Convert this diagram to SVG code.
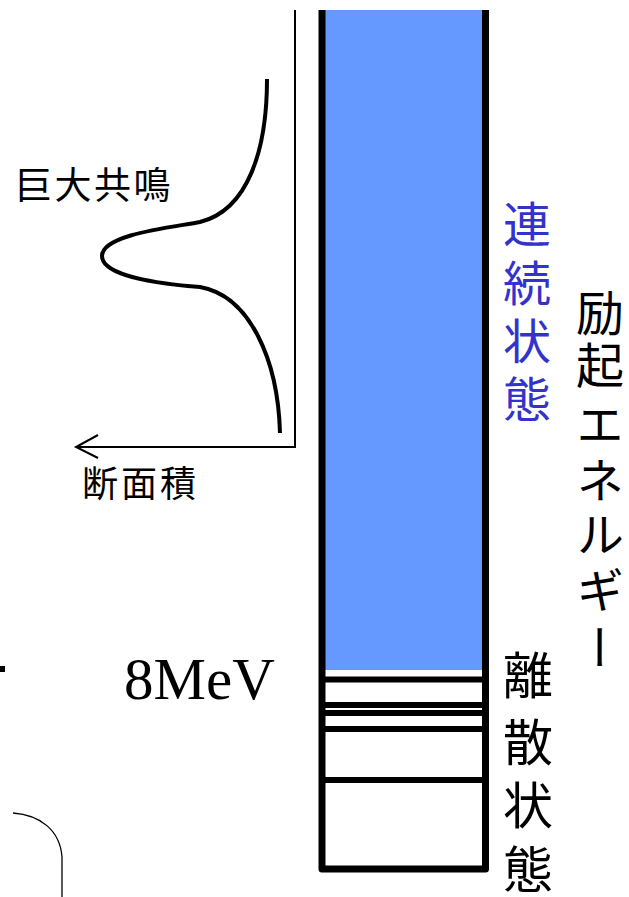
<svg xmlns="http://www.w3.org/2000/svg" width="629" height="897" viewBox="0 0 629 897">
<style>
.jp{font-family:"Noto Sans CJK JP","Noto Sans CJK SC",sans-serif;fill:#000}
.vt{writing-mode:vertical-rl;text-orientation:upright}
.lvl{stroke:#000;stroke-width:6}
.ax{stroke:#000;stroke-width:2;fill:none}
</style>
<rect width="629" height="897" fill="#fff"/>
<g id="column">
  <rect x="322" y="10" width="163" height="660" fill="#6699ff"/>
  <line class="lvl" x1="322" y1="679.5" x2="485" y2="679.5"/>
  <line class="lvl" x1="322" y1="705" x2="485" y2="705"/>
  <line class="lvl" x1="322" y1="713" x2="485" y2="713"/>
  <line class="lvl" x1="322" y1="729" x2="485" y2="729"/>
  <line class="lvl" x1="322" y1="780" x2="485" y2="780"/>
  <path d="M322,10 V869 H485.5 V10" fill="none" stroke="#000" stroke-width="7" stroke-linejoin="round"/>
</g>
<g id="axis">
  <path class="ax" d="M295,10 V447 H76"/>
  <path class="ax" d="M98,435 L76,447 L98,458"/>
</g>
<g id="resonance-curve">
  <path d="M267,79 C267,150 248,210 200,222 C175,227 102,234 102,256 C102,276 160,284 200,287 C250,296 278,360 280,433" fill="none" stroke="#000" stroke-width="4"/>
</g>
<g id="labels">
  <text class="jp" x="15" y="199" font-size="37" letter-spacing="2.5">巨大共鳴</text>
  <text class="jp" x="82" y="497" font-size="36" letter-spacing="3">断面積</text>
  <text x="124" y="699" font-family="Liberation Serif, serif" font-size="59" fill="#000">8MeV</text>
  <text id="continuum-label" class="jp vt" x="527" font-size="48" style="fill:#3333cc"><tspan x="527" y="200">連</tspan><tspan x="527" y="259">続</tspan><tspan x="527" y="317">状</tspan><tspan x="527" y="375">態</tspan></text>
  <text id="discrete-label" class="jp vt" x="528" font-size="50"><tspan x="528" y="650">離</tspan><tspan x="528" y="717">散</tspan><tspan x="528" y="780">状</tspan><tspan x="528" y="844">態</tspan></text>
  <text id="energy-label" class="jp vt" x="600" font-size="48"><tspan x="600" y="289">励</tspan><tspan x="600" y="341">起</tspan><tspan x="600" y="400">エ</tspan><tspan x="600" y="456">ネ</tspan><tspan x="600" y="510">ル</tspan><tspan x="600" y="566">ギ</tspan><tspan x="600" y="624">ー</tspan></text>
</g>
<g id="fragments">
  <rect x="0" y="666" width="5" height="6" fill="#000"/>
  <path d="M13,813 C40,815 60,830 62,857 V897" fill="none" stroke="#000" stroke-width="1.3"/>
</g>
</svg>
